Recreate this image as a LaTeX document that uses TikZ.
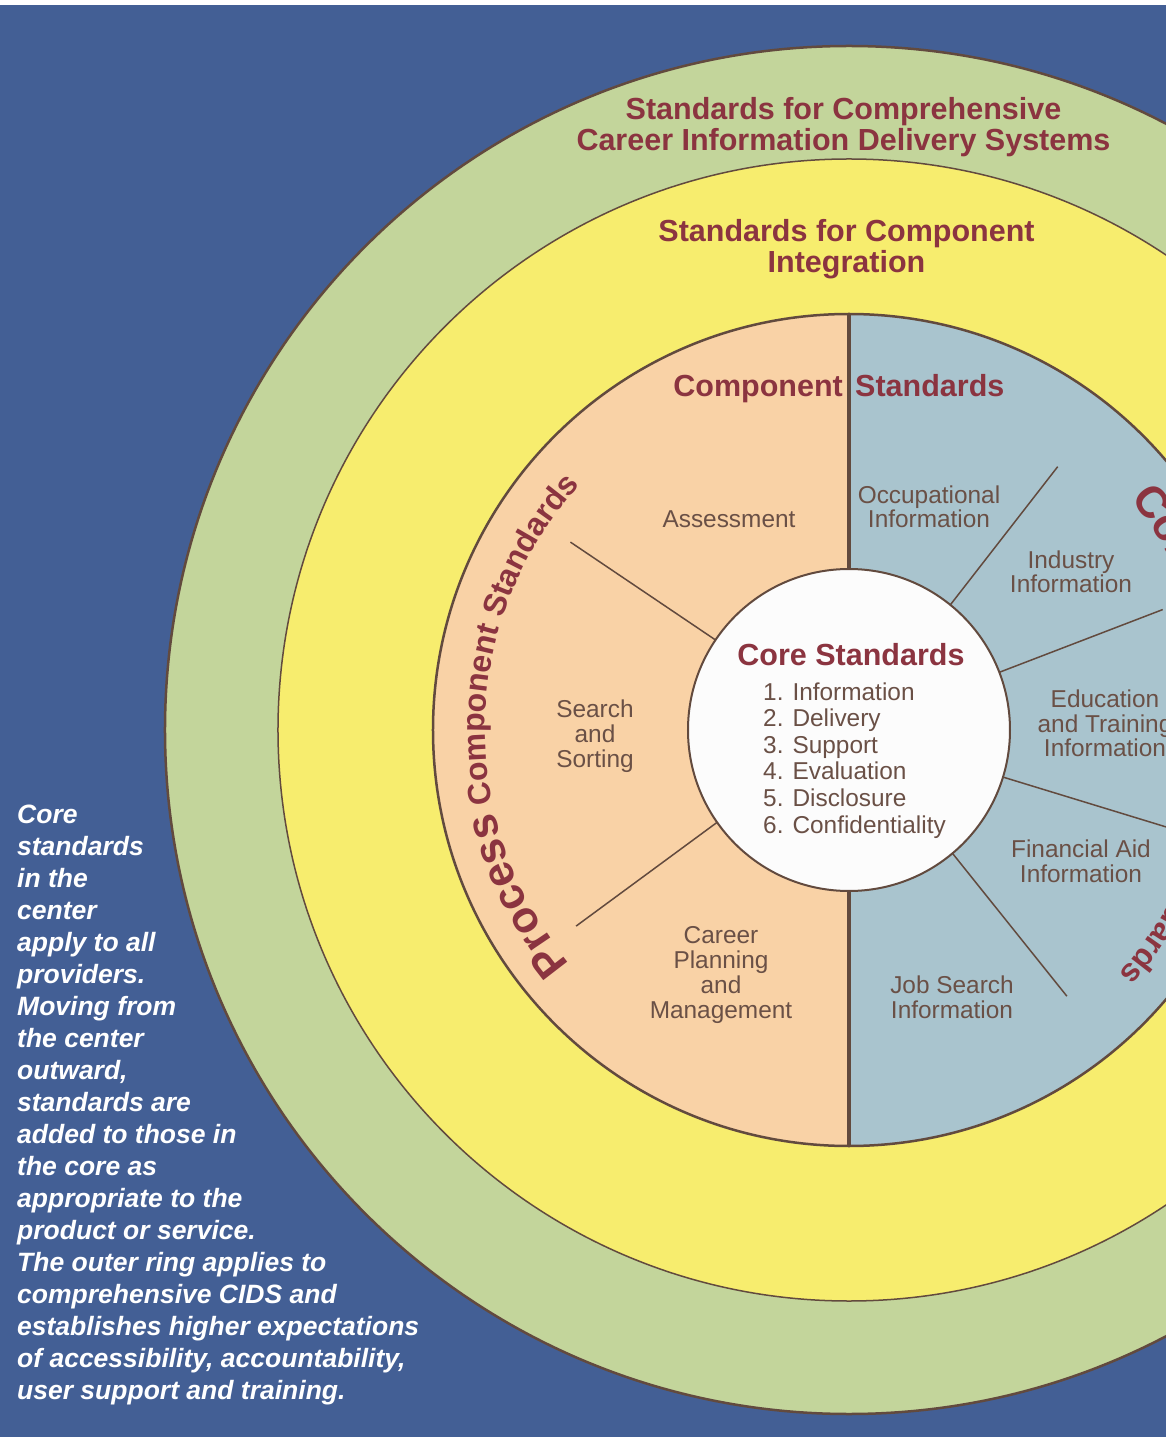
\documentclass[tikz,border=0pt]{standalone}
\usepackage{fontspec}
\setmainfont{Liberation Sans}
\usetikzlibrary{decorations.text}
\definecolor{bgblue}{HTML}{435F95}
\definecolor{ringgreen}{HTML}{C3D59B}
\definecolor{ringyellow}{HTML}{F7ED6E}
\definecolor{peach}{HTML}{F9D2A6}
\definecolor{paleblue}{HTML}{A9C4CE}
\definecolor{corewhite}{HTML}{FCFCFC}
\definecolor{edgebrown}{HTML}{624A3E}
\definecolor{titlered}{HTML}{8B3440}
\definecolor{labelbrown}{HTML}{6A5046}
\newcommand\bigproc{\fontsize{44}{44}\selectfont\bfseries}
\newcommand\smallproc{\fontsize{32}{32}\selectfont\bfseries}
\tikzset{
  titletext/.style={inner sep=0, anchor=base, text=titlered, font=\fontsize{30.5}{31}\selectfont\bfseries},
  labeltext/.style={inner sep=0, anchor=base, align=center, text=labelbrown, font=\fontsize{24.4}{24.7}\selectfont},
  divider/.style={draw=edgebrown, line width=1.5pt},
  ringedge/.style={draw=edgebrown}
}
\begin{document}
\begin{tikzpicture}[x=1pt,y=1pt]
\useasboundingbox (-849,-707) rectangle (317,730);
\fill[white] (-849,-707) rectangle (317,730);
\fill[bgblue] (-849,-707) rectangle (317,725);
\begin{scope}
\clip (-849,-707) rectangle (317,725);
% rings
\path[ringedge, fill=ringgreen, line width=2.5pt] (0,0) circle[radius=684];
\path[ringedge, fill=ringyellow, line width=1.5pt] (0,0) circle[radius=571];
% halves of the component disc
\fill[peach] (0,416) arc[start angle=90, end angle=270, radius=416] -- cycle;
\fill[paleblue] (0,-416) arc[start angle=-90, end angle=90, radius=416] -- cycle;
\draw[edgebrown, line width=2.5pt] (0,0) circle[radius=416];
% core node
\node[circle, draw=edgebrown, line width=2pt, fill=corewhite, minimum size=322pt, inner sep=0, outer sep=0] (core) at (0,0) {};
% divider end points
\coordinate (dtop) at (90:416);
\coordinate (dbot) at (-90:416);
\coordinate (eA) at (146:336);
\coordinate (eB) at (215.7:336);
\coordinate (eC) at (51.6:336);
\coordinate (eD) at (21:336);
\coordinate (eE) at (-17:336);
\coordinate (eF) at (-50.7:344);
\draw[edgebrown, line width=3.5pt] (core.north) -- (dtop);
\draw[edgebrown, line width=3.5pt] (core.south) -- (dbot);
\draw[divider] (core.146) -- (eA);
\draw[divider] (core.215.7) -- (eB);
\draw[divider] (core.51.6) -- (eC);
\draw[divider] (core.21) -- (eD);
\draw[divider] (core.-17) -- (eE);
\draw[divider] (core.-50.7) -- (eF);
% ring titles
\node[titletext] (t1) at (-5.5,610) {Standards for Comprehensive};
\node[titletext] (t2) at (-5.5,579) {Career Information Delivery Systems};
\node[titletext] (t3) at (-2.5,488) {Standards for Component};
\node[titletext] (t4) at (-2.5,457) {Integration};
\node[titletext, anchor=base east] (t5) at (-6,333) {Component};
\node[titletext, anchor=base west] (t6) at (6,333) {Standards};
% core text
\node[titletext] (coretitle) at (2,64) {Core Standards};
\node[inner sep=0, anchor=base west, align=left, text=labelbrown, font=\fontsize{24.4}{26.6}\selectfont] (corelist) at (-86,-103)
 {1.\hspace{9pt}Information\\2.\hspace{9pt}Delivery\\3.\hspace{9pt}Support\\4.\hspace{9pt}Evaluation\\5.\hspace{9pt}Disclosure\\6.\hspace{9pt}Confidentiality};
% segment labels (anchor = baseline of last line)
\node[labeltext] (assess) at (-120,202) {Assessment};
\node[labeltext] (search) at (-254,-37) {Search\\and\\Sorting};
\node[labeltext] (career) at (-128,-288) {Career\\Planning\\and\\Management};
\node[labeltext] (occup) at (80,202) {Occupational\\Information};
\node[labeltext] (indus) at (222,137) {Industry\\Information};
\node[labeltext] (educ) at (256,-27) {Education\\and Training\\Information};
\node[labeltext] (finan) at (232,-152) {Financial Aid\\Information};
\node[labeltext] (jobs) at (103,-288) {Job Search\\Information};
% curved titles
\path[decorate, decoration={text along path, text color=titlered, text align=left,
  text={|\bigproc|Process|\smallproc| Component Standards}}]
  (220:364) arc[start angle=220, end angle=110, radius=364];
\path[decorate, decoration={text along path, text color=titlered, text align=left,
  text={|\bigproc|Content|\smallproc| Component Standards}}]
  (39.5:364) arc[start angle=39.5, end angle=-80, radius=364];
% explanatory note
\node[inner sep=0, anchor=base west, align=left, text=white, font=\fontsize{26.5}{32}\selectfont\bfseries\itshape] (note) at (-832,-669)
 {Core\\standards\\in the\\center\\apply to all\\providers.\\Moving from\\the center\\outward,\\standards are\\added to those in\\the core as\\appropriate to the\\product or service.\\The outer ring applies to\\comprehensive CIDS and\\establishes higher expectations\\of accessibility, accountability,\\user support and training.};
\end{scope}
\end{tikzpicture}
\end{document}
